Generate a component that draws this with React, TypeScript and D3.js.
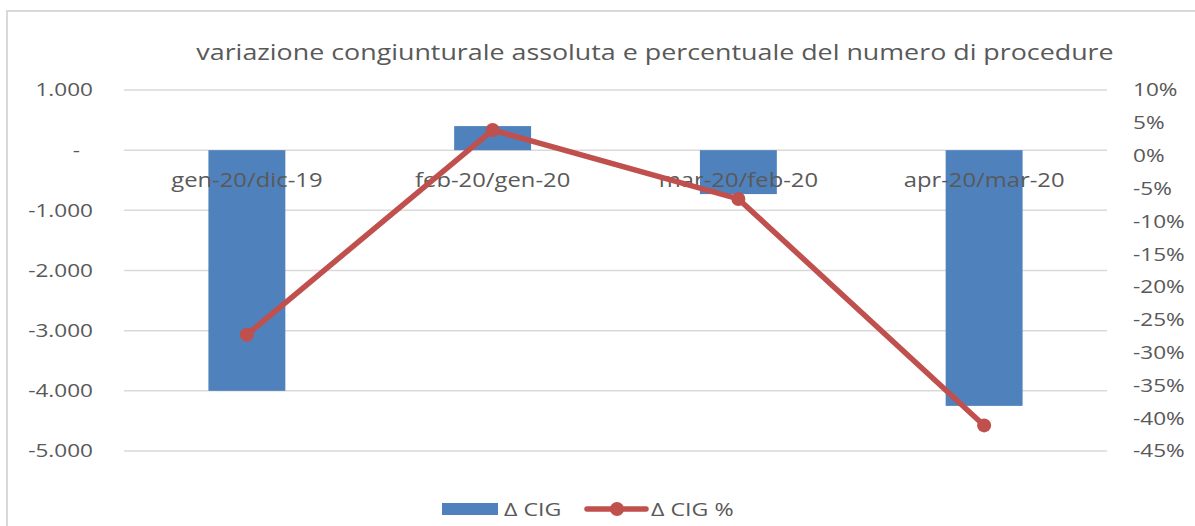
import React, { useEffect, useRef } from "react";
import * as d3 from "d3";

const categories = ["gen-20/dic-19", "feb-20/gen-20", "mar-20/feb-20", "apr-20/mar-20"];
const deltaCig = [-4000, 400, -730, -4250];
const deltaCigPct = [-27.3, 3.9, -6.6, -41.1];
const leftTicks = [1000, 0, -1000, -2000, -3000, -4000, -5000];
const rightTicks = [10, 5, 0, -5, -10, -15, -20, -25, -30, -35, -40, -45];

const width = 1195;
const height = 526;
const margin = { top: 90, right: 88, bottom: 75, left: 124 };
const font = "'Open Sans', 'DejaVu Sans', sans-serif";
const textColor = "#595959";
const barColor = "#4F81BD";
const lineColor = "#C0504D";
// the reference text is stretched sideways
const stretch = 1.22;

const App = () => {
  const svgRef = useRef<SVGSVGElement>(null);

  useEffect(() => {
    const svg = d3.select(svgRef.current);
    svg.selectAll("*").remove();

    const addText = (g, x, y, txt, size, anchor = "start") =>
      g
        .append("text")
        .attr("transform", `translate(${x},${y}) scale(${stretch},1)`)
        .attr("dy", "0.35em")
        .attr("text-anchor", anchor)
        .attr("font-family", font)
        .attr("font-size", size)
        .attr("fill", textColor)
        .text(txt);

    const x = d3
      .scaleBand()
      .domain(categories)
      .range([margin.left, width - margin.right]);

    const yLeft = d3
      .scaleLinear()
      .domain([-5000, 1000])
      .range([height - margin.bottom, margin.top]);

    const yRight = d3
      .scaleLinear()
      .domain([-45, 10])
      .range([height - margin.bottom, margin.top]);

    // chart frame
    svg
      .append("rect")
      .attr("x", 7)
      .attr("y", 11)
      .attr("width", width + 20)
      .attr("height", height + 20)
      .attr("fill", "white")
      .attr("stroke", "#d9d9d9")
      .attr("stroke-width", 2);

    // title
    addText(
      svg,
      655,
      52,
      "variazione congiunturale assoluta e percentuale del numero di procedure",
      22,
      "middle"
    );

    // gridlines
    svg
      .append("g")
      .selectAll("line")
      .data(leftTicks)
      .enter()
      .append("line")
      .attr("x1", margin.left)
      .attr("x2", width - margin.right)
      .attr("y1", (d) => yLeft(d))
      .attr("y2", (d) => yLeft(d))
      .attr("stroke", "#d9d9d9")
      .attr("stroke-width", 1.5);

    // left axis labels
    const gl = svg.append("g");
    leftTicks.forEach((d) => {
      const label = d === 0 ? "-" : d3.format(",")(d).replace(/,/g, ".").replace("−", "-");
      addText(gl, d === 0 ? 80 : 93, yLeft(d), label, 18.5, "end");
    });

    // right axis labels
    const gr = svg.append("g");
    rightTicks.forEach((d) => {
      addText(gr, 1133, yRight(d), `${d}%`, 18.5, "start");
    });

    // bars
    const barW = x.bandwidth() * 0.313;
    svg
      .append("g")
      .selectAll("rect")
      .data(deltaCig)
      .enter()
      .append("rect")
      .attr("x", (d, i) => x(categories[i])! + x.bandwidth() / 2 - barW / 2)
      .attr("y", (d) => yLeft(Math.max(0, d)))
      .attr("width", barW)
      .attr("height", (d) => Math.abs(yLeft(d) - yLeft(0)))
      .attr("fill", barColor);

    // category labels
    const gc = svg.append("g");
    categories.forEach((c) => {
      addText(gc, x(c)! + x.bandwidth() / 2, yLeft(0) + 30, c, 19.5, "middle");
    });

    // line
    const line = d3
      .line<number>()
      .x((d, i) => x(categories[i])! + x.bandwidth() / 2)
      .y((d) => yRight(d));

    svg
      .append("path")
      .datum(deltaCigPct)
      .attr("d", line)
      .attr("fill", "none")
      .attr("stroke", lineColor)
      .attr("stroke-width", 5.5)
      .attr("stroke-linejoin", "round");

    svg
      .append("g")
      .selectAll("circle")
      .data(deltaCigPct)
      .enter()
      .append("circle")
      .attr("cx", (d, i) => x(categories[i])! + x.bandwidth() / 2)
      .attr("cy", (d) => yRight(d))
      .attr("r", 7)
      .attr("fill", lineColor);

    // legend
    const leg = svg.append("g");
    leg
      .append("rect")
      .attr("x", 442)
      .attr("y", 503)
      .attr("width", 56)
      .attr("height", 12)
      .attr("fill", barColor);
    addText(leg, 504, 509, "Δ CIG", 19);
    leg
      .append("line")
      .attr("x1", 587)
      .attr("x2", 646)
      .attr("y1", 509)
      .attr("y2", 509)
      .attr("stroke", lineColor)
      .attr("stroke-width", 5.5)
      .attr("stroke-linecap", "round");
    leg
      .append("circle")
      .attr("cx", 617)
      .attr("cy", 509)
      .attr("r", 7)
      .attr("fill", lineColor);
    addText(leg, 651, 509, "Δ CIG %", 19);
  }, []);

  return (
    <div style={{ position: "absolute", top: 0, left: 0 }}>
      <svg ref={svgRef} width={width} height={height} style={{ display: "block" }} />
    </div>
  );
};

export default App;
